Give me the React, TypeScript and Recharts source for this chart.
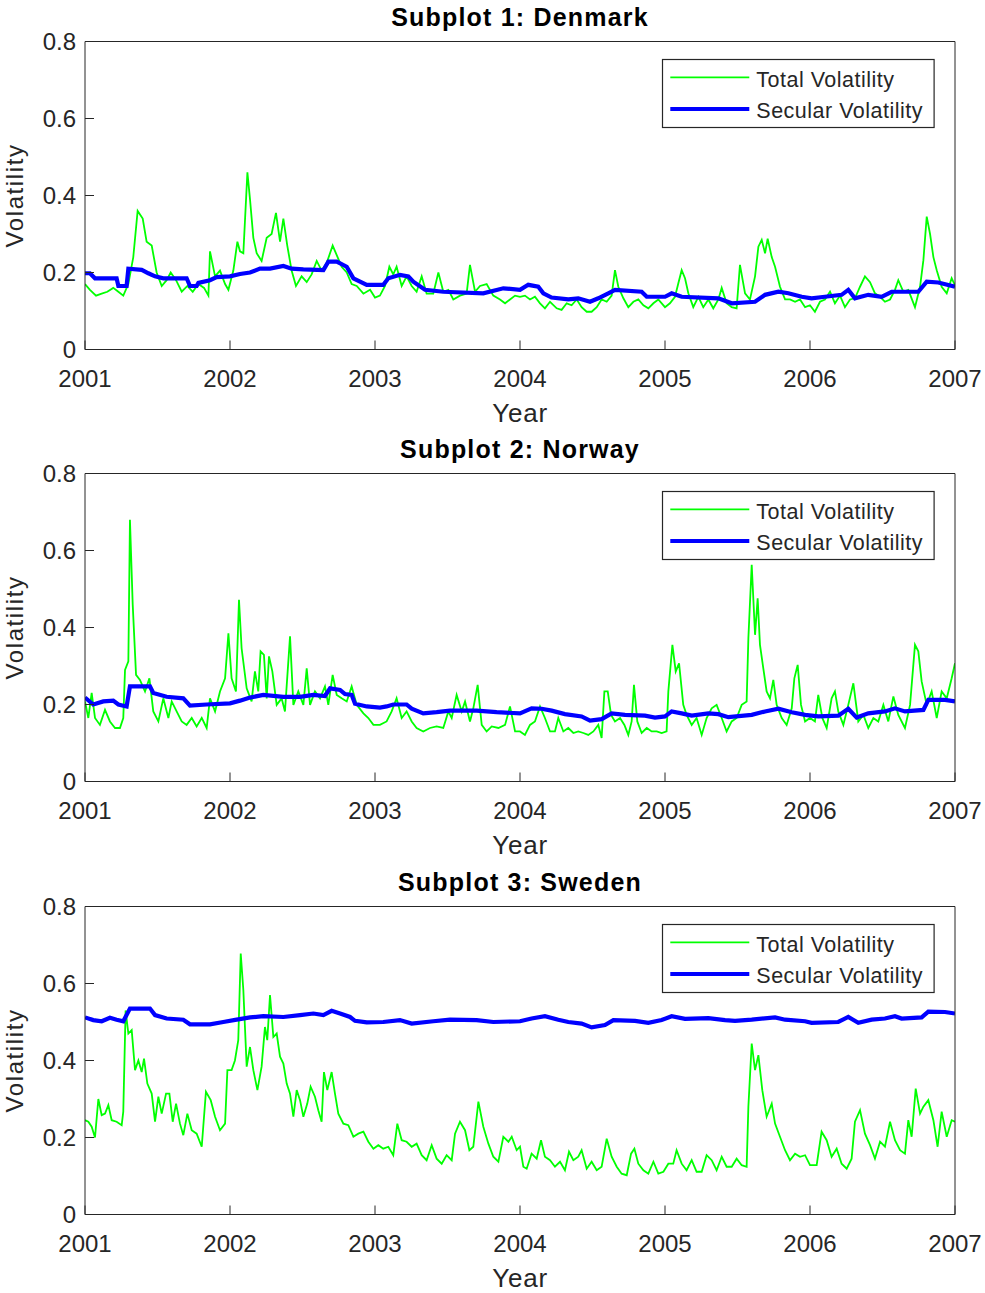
import React from 'react';
import { LineChart, Line, XAxis, YAxis, Legend, Label } from 'recharts';

// Axis ticks
const YEARS = [2001, 2002, 2003, 2004, 2005, 2006, 2007];
const VOL_TICKS = [0, 0.2, 0.4, 0.6, 0.8];

// Series: [decimal year, volatility]
const dkTotal: [number, number][] = [
  [2001.0, 0.17], [2001.034, 0.155], [2001.076, 0.14], [2001.115, 0.145], [2001.154, 0.15], [2001.195, 0.16],
  [2001.23, 0.15], [2001.264, 0.14], [2001.299, 0.17], [2001.333, 0.24], [2001.363, 0.36], [2001.398, 0.34],
  [2001.425, 0.28], [2001.46, 0.27], [2001.494, 0.2], [2001.529, 0.165], [2001.563, 0.18], [2001.591, 0.2],
  [2001.628, 0.18], [2001.667, 0.15], [2001.706, 0.165], [2001.743, 0.15], [2001.782, 0.17], [2001.821, 0.16],
  [2001.851, 0.14], [2001.862, 0.255], [2001.897, 0.19], [2001.931, 0.205], [2001.966, 0.17], [2001.989, 0.155],
  [2002.023, 0.205], [2002.051, 0.28], [2002.069, 0.255], [2002.092, 0.25], [2002.12, 0.46], [2002.138, 0.39],
  [2002.161, 0.29], [2002.184, 0.25], [2002.218, 0.23], [2002.253, 0.29], [2002.287, 0.3], [2002.317, 0.355],
  [2002.345, 0.28], [2002.368, 0.34], [2002.395, 0.27], [2002.425, 0.205], [2002.455, 0.165], [2002.494, 0.19],
  [2002.529, 0.175], [2002.563, 0.195], [2002.598, 0.23], [2002.632, 0.205], [2002.667, 0.225], [2002.708, 0.27],
  [2002.736, 0.245], [2002.77, 0.215], [2002.805, 0.2], [2002.839, 0.17], [2002.874, 0.165], [2002.92, 0.145],
  [2002.966, 0.155], [2003.0, 0.135], [2003.034, 0.14], [2003.069, 0.165], [2003.099, 0.215], [2003.126, 0.195],
  [2003.149, 0.215], [2003.184, 0.165], [2003.218, 0.19], [2003.253, 0.165], [2003.287, 0.15], [2003.322, 0.19],
  [2003.356, 0.145], [2003.402, 0.145], [2003.437, 0.2], [2003.471, 0.15], [2003.506, 0.155], [2003.54, 0.13],
  [2003.586, 0.14], [2003.632, 0.145], [2003.655, 0.22], [2003.69, 0.15], [2003.724, 0.165], [2003.77, 0.17],
  [2003.816, 0.14], [2003.862, 0.13], [2003.897, 0.12], [2003.931, 0.13], [2003.966, 0.14],
  [2004.0, 0.137], [2004.034, 0.14], [2004.069, 0.13], [2004.103, 0.137], [2004.138, 0.12], [2004.172, 0.107],
  [2004.207, 0.124], [2004.253, 0.107], [2004.287, 0.103], [2004.322, 0.12], [2004.356, 0.115], [2004.391, 0.13],
  [2004.425, 0.11], [2004.46, 0.098], [2004.494, 0.098], [2004.529, 0.11], [2004.563, 0.13], [2004.598, 0.124],
  [2004.632, 0.14], [2004.655, 0.206], [2004.678, 0.163], [2004.713, 0.133], [2004.747, 0.11], [2004.782, 0.124],
  [2004.816, 0.13], [2004.851, 0.115], [2004.885, 0.107], [2004.92, 0.12], [2004.954, 0.13], [2005.0, 0.11],
  [2005.034, 0.12], [2005.069, 0.137], [2005.092, 0.172], [2005.115, 0.206], [2005.138, 0.185], [2005.161, 0.146],
  [2005.195, 0.11], [2005.23, 0.137], [2005.264, 0.11], [2005.299, 0.13], [2005.333, 0.107], [2005.368, 0.13],
  [2005.391, 0.16], [2005.425, 0.12], [2005.46, 0.11], [2005.494, 0.107], [2005.517, 0.22], [2005.552, 0.146],
  [2005.586, 0.13], [2005.621, 0.19], [2005.644, 0.267], [2005.667, 0.285], [2005.69, 0.25], [2005.708, 0.288],
  [2005.736, 0.24], [2005.759, 0.215], [2005.793, 0.163], [2005.828, 0.13], [2005.862, 0.13], [2005.897, 0.124],
  [2005.931, 0.13], [2005.966, 0.11], [2006.0, 0.115], [2006.034, 0.098], [2006.069, 0.124], [2006.103, 0.13],
  [2006.138, 0.15], [2006.172, 0.12], [2006.207, 0.14], [2006.241, 0.11], [2006.276, 0.13], [2006.31, 0.133],
  [2006.345, 0.163], [2006.379, 0.19], [2006.414, 0.175], [2006.448, 0.146], [2006.483, 0.137], [2006.517, 0.124],
  [2006.552, 0.13], [2006.586, 0.155], [2006.609, 0.18], [2006.644, 0.15], [2006.678, 0.155], [2006.724, 0.11],
  [2006.759, 0.163], [2006.782, 0.232], [2006.805, 0.345], [2006.828, 0.3], [2006.851, 0.24], [2006.874, 0.206],
  [2006.908, 0.163], [2006.943, 0.146], [2006.977, 0.185], [2007.0, 0.167],
];

const dkSecular: [number, number][] = [
  [2001.0, 0.198], [2001.034, 0.198], [2001.069, 0.185], [2001.218, 0.185], [2001.23, 0.165], [2001.287, 0.165],
  [2001.299, 0.21], [2001.391, 0.207], [2001.437, 0.198], [2001.483, 0.19], [2001.54, 0.185], [2001.701, 0.185],
  [2001.724, 0.165], [2001.77, 0.165], [2001.782, 0.173], [2001.862, 0.18], [2001.908, 0.188], [2002.0, 0.19],
  [2002.069, 0.196], [2002.138, 0.2], [2002.207, 0.21], [2002.276, 0.21], [2002.368, 0.217], [2002.425, 0.21],
  [2002.506, 0.208], [2002.644, 0.206], [2002.678, 0.228], [2002.736, 0.228], [2002.805, 0.215], [2002.851, 0.185],
  [2002.943, 0.168], [2003.057, 0.168], [2003.092, 0.185], [2003.172, 0.194], [2003.23, 0.19], [2003.264, 0.176],
  [2003.345, 0.155], [2003.471, 0.15], [2003.747, 0.146], [2003.885, 0.159], [2004.0, 0.155],
  [2004.057, 0.168], [2004.126, 0.163], [2004.161, 0.146], [2004.218, 0.135], [2004.333, 0.13], [2004.402, 0.133],
  [2004.483, 0.124], [2004.54, 0.133], [2004.609, 0.146], [2004.655, 0.155], [2004.839, 0.15], [2004.874, 0.137],
  [2005.0, 0.137], [2005.046, 0.146], [2005.115, 0.137], [2005.368, 0.133], [2005.46, 0.12], [2005.621, 0.124],
  [2005.69, 0.142], [2005.782, 0.15], [2005.851, 0.146], [2005.943, 0.137], [2006.011, 0.133], [2006.103, 0.137],
  [2006.218, 0.142], [2006.264, 0.155], [2006.31, 0.133], [2006.402, 0.142], [2006.494, 0.137], [2006.563, 0.15],
  [2006.747, 0.15], [2006.805, 0.176], [2006.885, 0.174], [2007.0, 0.163],
];

const noTotal: [number, number][] = [
  [2001.0, 0.208], [2001.023, 0.165], [2001.046, 0.23], [2001.069, 0.165], [2001.103, 0.147], [2001.138, 0.186],
  [2001.172, 0.156], [2001.207, 0.139], [2001.241, 0.139], [2001.264, 0.165], [2001.276, 0.29], [2001.299, 0.312],
  [2001.31, 0.68], [2001.329, 0.46], [2001.352, 0.277], [2001.379, 0.264], [2001.414, 0.234], [2001.444, 0.268],
  [2001.471, 0.182], [2001.506, 0.156], [2001.54, 0.216], [2001.575, 0.165], [2001.598, 0.208], [2001.632, 0.182],
  [2001.667, 0.156], [2001.701, 0.147], [2001.736, 0.165], [2001.77, 0.143], [2001.805, 0.165], [2001.839, 0.139],
  [2001.862, 0.216], [2001.897, 0.182], [2001.931, 0.234], [2001.966, 0.268], [2001.989, 0.385], [2002.011, 0.268],
  [2002.041, 0.234], [2002.062, 0.472], [2002.08, 0.346], [2002.115, 0.242], [2002.149, 0.208], [2002.172, 0.286],
  [2002.195, 0.234], [2002.211, 0.338], [2002.234, 0.329], [2002.253, 0.216], [2002.269, 0.325], [2002.292, 0.286],
  [2002.322, 0.199], [2002.356, 0.216], [2002.379, 0.182], [2002.414, 0.377], [2002.437, 0.199], [2002.471, 0.234],
  [2002.506, 0.199], [2002.529, 0.294], [2002.552, 0.199], [2002.586, 0.234], [2002.621, 0.216], [2002.655, 0.247],
  [2002.678, 0.199], [2002.708, 0.277], [2002.736, 0.225], [2002.77, 0.216], [2002.805, 0.208], [2002.839, 0.247],
  [2002.874, 0.199], [2002.92, 0.177], [2002.954, 0.165], [2002.989, 0.147], [2003.034, 0.147], [2003.08, 0.156],
  [2003.115, 0.182], [2003.149, 0.216], [2003.184, 0.165], [2003.218, 0.182], [2003.253, 0.156], [2003.287, 0.139],
  [2003.333, 0.13], [2003.379, 0.139], [2003.425, 0.143], [2003.471, 0.139], [2003.506, 0.182], [2003.529, 0.165],
  [2003.563, 0.225], [2003.598, 0.182], [2003.621, 0.208], [2003.655, 0.156], [2003.678, 0.19], [2003.708, 0.251],
  [2003.736, 0.147], [2003.77, 0.13], [2003.805, 0.143], [2003.851, 0.139], [2003.897, 0.147], [2003.931, 0.195],
  [2003.966, 0.13], [2004.0, 0.13], [2004.034, 0.121], [2004.069, 0.147], [2004.103, 0.156], [2004.138, 0.195],
  [2004.172, 0.165], [2004.207, 0.13], [2004.241, 0.13], [2004.264, 0.165], [2004.299, 0.13], [2004.333, 0.139],
  [2004.368, 0.126], [2004.402, 0.13], [2004.437, 0.126], [2004.471, 0.121], [2004.506, 0.13], [2004.54, 0.147],
  [2004.563, 0.113], [2004.582, 0.234], [2004.605, 0.234], [2004.628, 0.173], [2004.655, 0.156], [2004.69, 0.165],
  [2004.72, 0.147], [2004.747, 0.121], [2004.77, 0.156], [2004.786, 0.251], [2004.809, 0.156], [2004.839, 0.126],
  [2004.874, 0.139], [2004.908, 0.13], [2004.943, 0.13], [2004.977, 0.126], [2005.011, 0.13], [2005.023, 0.234],
  [2005.051, 0.355], [2005.074, 0.286], [2005.097, 0.307], [2005.126, 0.199], [2005.149, 0.173], [2005.184, 0.147],
  [2005.218, 0.165], [2005.253, 0.121], [2005.287, 0.165], [2005.322, 0.19], [2005.356, 0.199], [2005.391, 0.165],
  [2005.425, 0.13], [2005.46, 0.156], [2005.494, 0.165], [2005.529, 0.199], [2005.563, 0.208], [2005.575, 0.372],
  [2005.598, 0.563], [2005.621, 0.381], [2005.639, 0.476], [2005.655, 0.355], [2005.678, 0.294], [2005.701, 0.234],
  [2005.724, 0.216], [2005.747, 0.264], [2005.77, 0.199], [2005.805, 0.165], [2005.839, 0.147], [2005.874, 0.19],
  [2005.892, 0.268], [2005.915, 0.303], [2005.938, 0.199], [2005.966, 0.156], [2006.0, 0.165], [2006.034, 0.156],
  [2006.057, 0.225], [2006.085, 0.165], [2006.115, 0.139], [2006.149, 0.216], [2006.172, 0.234], [2006.195, 0.182],
  [2006.23, 0.147], [2006.264, 0.199], [2006.299, 0.255], [2006.333, 0.156], [2006.368, 0.173], [2006.402, 0.139],
  [2006.437, 0.165], [2006.471, 0.156], [2006.506, 0.199], [2006.54, 0.156], [2006.575, 0.221], [2006.609, 0.173],
  [2006.655, 0.139], [2006.69, 0.199], [2006.724, 0.355], [2006.747, 0.338], [2006.77, 0.26], [2006.805, 0.199],
  [2006.839, 0.234], [2006.874, 0.165], [2006.908, 0.234], [2006.943, 0.216], [2006.977, 0.268], [2007.0, 0.307],
];

const noSecular: [number, number][] = [
  [2001.0, 0.218], [2001.057, 0.2], [2001.126, 0.208], [2001.195, 0.21], [2001.23, 0.2], [2001.287, 0.195],
  [2001.31, 0.247], [2001.448, 0.247], [2001.471, 0.23], [2001.563, 0.22], [2001.678, 0.216], [2001.724, 0.197],
  [2001.839, 0.2], [2002.0, 0.203], [2002.069, 0.21], [2002.138, 0.218], [2002.23, 0.225], [2002.368, 0.22],
  [2002.483, 0.22], [2002.575, 0.225], [2002.655, 0.222], [2002.69, 0.242], [2002.759, 0.238], [2002.793, 0.227],
  [2002.839, 0.225], [2002.862, 0.202], [2002.943, 0.195], [2003.034, 0.192], [2003.08, 0.195], [2003.126, 0.2],
  [2003.218, 0.2], [2003.253, 0.189], [2003.333, 0.177], [2003.425, 0.18], [2003.517, 0.184], [2003.701, 0.184],
  [2003.839, 0.18], [2004.0, 0.177], [2004.08, 0.19], [2004.149, 0.189], [2004.218, 0.184], [2004.31, 0.175],
  [2004.425, 0.169], [2004.483, 0.158], [2004.563, 0.162], [2004.632, 0.177], [2004.724, 0.173], [2004.862, 0.171],
  [2004.931, 0.166], [2005.0, 0.169], [2005.046, 0.182], [2005.115, 0.177], [2005.184, 0.171], [2005.299, 0.177],
  [2005.368, 0.175], [2005.437, 0.167], [2005.598, 0.173], [2005.69, 0.182], [2005.782, 0.189], [2005.874, 0.18],
  [2005.966, 0.173], [2006.057, 0.169], [2006.195, 0.171], [2006.264, 0.189], [2006.322, 0.166], [2006.402, 0.177],
  [2006.517, 0.182], [2006.586, 0.19], [2006.655, 0.182], [2006.782, 0.186], [2006.816, 0.212], [2006.931, 0.212],
  [2007.0, 0.208],
];

const seTotal: [number, number][] = [
  [2001.0, 0.245], [2001.023, 0.241], [2001.046, 0.228], [2001.069, 0.2], [2001.092, 0.3], [2001.115, 0.258],
  [2001.138, 0.262], [2001.161, 0.284], [2001.184, 0.245], [2001.218, 0.241], [2001.253, 0.232], [2001.264, 0.267],
  [2001.28, 0.53], [2001.299, 0.47], [2001.322, 0.479], [2001.345, 0.375], [2001.368, 0.4], [2001.391, 0.37],
  [2001.407, 0.405], [2001.43, 0.34], [2001.46, 0.314], [2001.483, 0.241], [2001.506, 0.306], [2001.529, 0.262],
  [2001.559, 0.314], [2001.582, 0.314], [2001.605, 0.241], [2001.628, 0.288], [2001.655, 0.236], [2001.678, 0.206],
  [2001.706, 0.262], [2001.736, 0.219], [2001.77, 0.21], [2001.805, 0.176], [2001.834, 0.319], [2001.867, 0.297],
  [2001.897, 0.254], [2001.931, 0.219], [2001.966, 0.236], [2001.982, 0.375], [2002.011, 0.375], [2002.034, 0.4],
  [2002.057, 0.453], [2002.074, 0.678], [2002.092, 0.583], [2002.115, 0.384], [2002.138, 0.435], [2002.161, 0.375],
  [2002.189, 0.323], [2002.218, 0.384], [2002.241, 0.487], [2002.257, 0.453], [2002.276, 0.57], [2002.299, 0.461],
  [2002.322, 0.47], [2002.345, 0.41], [2002.368, 0.392], [2002.391, 0.34], [2002.414, 0.314], [2002.437, 0.254],
  [2002.46, 0.323], [2002.483, 0.297], [2002.506, 0.254], [2002.533, 0.288], [2002.556, 0.332], [2002.586, 0.306],
  [2002.609, 0.271], [2002.632, 0.241], [2002.648, 0.37], [2002.671, 0.323], [2002.701, 0.37], [2002.724, 0.314],
  [2002.747, 0.262], [2002.782, 0.236], [2002.816, 0.232], [2002.851, 0.202], [2002.885, 0.21], [2002.92, 0.215],
  [2002.954, 0.189], [2002.989, 0.171], [2003.023, 0.18], [2003.057, 0.171], [2003.092, 0.176], [2003.126, 0.154],
  [2003.154, 0.236], [2003.184, 0.193], [2003.218, 0.189], [2003.253, 0.176], [2003.287, 0.184], [2003.322, 0.154],
  [2003.356, 0.141], [2003.391, 0.18], [2003.425, 0.145], [2003.46, 0.132], [2003.494, 0.154], [2003.529, 0.141],
  [2003.552, 0.21], [2003.586, 0.241], [2003.621, 0.219], [2003.651, 0.167], [2003.678, 0.176], [2003.713, 0.293],
  [2003.747, 0.228], [2003.782, 0.184], [2003.816, 0.15], [2003.851, 0.137], [2003.885, 0.202], [2003.92, 0.189],
  [2003.943, 0.202], [2003.977, 0.167], [2004.0, 0.176], [2004.023, 0.124], [2004.046, 0.119], [2004.08, 0.158],
  [2004.115, 0.145], [2004.145, 0.193], [2004.172, 0.15], [2004.207, 0.141], [2004.241, 0.124], [2004.276, 0.137],
  [2004.31, 0.115], [2004.338, 0.163], [2004.368, 0.141], [2004.402, 0.15], [2004.425, 0.167], [2004.46, 0.119],
  [2004.494, 0.137], [2004.529, 0.115], [2004.563, 0.124], [2004.598, 0.197], [2004.632, 0.15], [2004.667, 0.124],
  [2004.701, 0.106], [2004.736, 0.102], [2004.766, 0.158], [2004.789, 0.171], [2004.816, 0.132], [2004.851, 0.115],
  [2004.885, 0.106], [2004.92, 0.137], [2004.954, 0.106], [2004.989, 0.111], [2005.023, 0.132], [2005.057, 0.132],
  [2005.08, 0.167], [2005.115, 0.132], [2005.149, 0.115], [2005.184, 0.141], [2005.218, 0.111], [2005.253, 0.111],
  [2005.287, 0.154], [2005.322, 0.141], [2005.356, 0.115], [2005.391, 0.15], [2005.425, 0.124], [2005.46, 0.124],
  [2005.494, 0.145], [2005.529, 0.128], [2005.563, 0.124], [2005.575, 0.28], [2005.598, 0.444], [2005.621, 0.375],
  [2005.644, 0.414], [2005.671, 0.323], [2005.701, 0.254], [2005.736, 0.288], [2005.759, 0.236], [2005.793, 0.202],
  [2005.828, 0.167], [2005.862, 0.141], [2005.897, 0.158], [2005.931, 0.15], [2005.966, 0.154], [2006.0, 0.128],
  [2006.046, 0.128], [2006.08, 0.215], [2006.115, 0.193], [2006.149, 0.15], [2006.184, 0.171], [2006.218, 0.132],
  [2006.253, 0.119], [2006.287, 0.145], [2006.31, 0.241], [2006.345, 0.271], [2006.379, 0.21], [2006.414, 0.18],
  [2006.448, 0.145], [2006.483, 0.189], [2006.517, 0.176], [2006.552, 0.241], [2006.586, 0.193], [2006.621, 0.167],
  [2006.655, 0.158], [2006.678, 0.245], [2006.701, 0.202], [2006.729, 0.327], [2006.759, 0.262], [2006.782, 0.28],
  [2006.816, 0.297], [2006.851, 0.245], [2006.88, 0.176], [2006.908, 0.267], [2006.943, 0.202], [2006.977, 0.245],
  [2007.0, 0.241],
];

const seSecular: [number, number][] = [
  [2001.0, 0.512], [2001.057, 0.505], [2001.115, 0.502], [2001.172, 0.511], [2001.218, 0.506], [2001.264, 0.502],
  [2001.31, 0.535], [2001.448, 0.535], [2001.483, 0.518], [2001.563, 0.509], [2001.678, 0.506], [2001.724, 0.494],
  [2001.862, 0.494], [2001.954, 0.5], [2002.046, 0.506], [2002.138, 0.512], [2002.23, 0.515], [2002.368, 0.513],
  [2002.483, 0.518], [2002.575, 0.522], [2002.644, 0.518], [2002.701, 0.529], [2002.759, 0.522], [2002.828, 0.513],
  [2002.862, 0.503], [2002.943, 0.499], [2003.057, 0.5], [2003.172, 0.505], [2003.253, 0.496], [2003.402, 0.502],
  [2003.517, 0.506], [2003.701, 0.505], [2003.816, 0.5], [2004.0, 0.502], [2004.08, 0.509], [2004.172, 0.515],
  [2004.264, 0.506], [2004.333, 0.5], [2004.425, 0.496], [2004.494, 0.486], [2004.586, 0.492], [2004.644, 0.505],
  [2004.793, 0.503], [2004.885, 0.498], [2004.977, 0.505], [2005.046, 0.515], [2005.138, 0.508], [2005.299, 0.51],
  [2005.414, 0.505], [2005.483, 0.503], [2005.598, 0.506], [2005.759, 0.512], [2005.828, 0.506], [2005.966, 0.502],
  [2006.011, 0.498], [2006.195, 0.5], [2006.264, 0.513], [2006.333, 0.498], [2006.425, 0.506], [2006.517, 0.509],
  [2006.586, 0.515], [2006.632, 0.509], [2006.77, 0.512], [2006.816, 0.527], [2006.931, 0.526], [2007.0, 0.522],
];

const PANELS = [
  { title: 'Subplot 1: Denmark', total: dkTotal, secular: dkSecular, top: 0 },
  { title: 'Subplot 2: Norway', total: noTotal, secular: noSecular, top: 431.8 },
  { title: 'Subplot 3: Sweden', total: seTotal, secular: seSecular, top: 864.5 },
];

const GREEN = '#00ff00';
const BLUE = '#0000ff';
const INK = '#262626';
const FONT = '"Liberation Sans", Arial, Helvetica, sans-serif';

const toPoints = (rows: [number, number][]) => rows.map(([year, value]) => ({ year, value }));

const LegendBox = () => (
  <svg width={274} height={70} style={{ display: 'block', overflow: 'visible' }}>
    <rect x={0.5} y={0.5} width={271.6} height={68} fill="#ffffff" stroke={INK} strokeWidth={1.2} />
    <line x1={8.3} x2={87.3} y1={18.4} y2={18.4} stroke={GREEN} strokeWidth={1.8} />
    <line x1={8.3} x2={87.3} y1={50} y2={50} stroke={BLUE} strokeWidth={4.2} />
    <text x={94.3} y={28.4} fill={INK} fontSize={21.5} fontFamily={FONT} letterSpacing={0.5}>Total Volatility</text>
    <text x={94.3} y={59} fill={INK} fontSize={21.5} fontFamily={FONT} letterSpacing={0.5}>Secular Volatility</text>
  </svg>
);

const titleContent = (title: string) => (props: any) => {
  const vb = props.viewBox || { x: 0, y: 0, width: 0, height: 0 };
  return (
    <text
      x={vb.x + vb.width / 2}
      y={vb.y + vb.height - 15.5}
      textAnchor="middle"
      fill="#000000"
      fontSize={25}
      fontWeight="bold"
      fontFamily={FONT}
      letterSpacing={1.2}
    >
      {title}
    </text>
  );
};

const volatilityContent = (props: any) => {
  const vb = props.viewBox || { x: 0, y: 0, width: 0, height: 0 };
  const cx = vb.x + 23.3;
  const cy = vb.y + vb.height / 2;
  return (
    <text
      x={cx}
      y={cy}
      transform={`rotate(-90, ${cx}, ${cy})`}
      textAnchor="middle"
      fill={INK}
      fontSize={24}
      fontFamily={FONT}
      letterSpacing={1.6}
    >
      Volatility
    </text>
  );
};

const tickStyle = { fill: INK, fontSize: 24, fontFamily: FONT };

function Panel({ title, total, secular }: { title: string; total: [number, number][]; secular: [number, number][] }) {
  return (
    <LineChart width={985} height={432} margin={{ top: 40.5, right: 29, bottom: 28.5, left: 0 }}>
      <XAxis
        xAxisId="bottom"
        dataKey="year"
        type="number"
        domain={[2001, 2007]}
        ticks={YEARS}
        interval={0}
        allowDataOverflow
        height={54}
        tickSize={-9}
        tickMargin={29.5}
        stroke={INK}
        tick={tickStyle}
      >
        <Label position="bottom" offset={0} value="Year" fill={INK} fontSize={26} fontFamily={FONT} letterSpacing={0.8} />
      </XAxis>
      <XAxis
        xAxisId="top"
        orientation="top"
        dataKey="year"
        type="number"
        domain={[2001, 2007]}
        ticks={YEARS}
        interval={0}
        allowDataOverflow
        height={1}
        tickSize={-9}
        tick={false}
        stroke={INK}
      >
        <Label content={titleContent(title)} />
      </XAxis>
      <YAxis
        yAxisId="left"
        type="number"
        domain={[0, 0.8]}
        ticks={VOL_TICKS}
        interval={0}
        allowDataOverflow
        width={85}
        tickSize={-9}
        tickMargin={18}
        stroke={INK}
        tick={tickStyle}
      >
        <Label content={volatilityContent} />
      </YAxis>
      <YAxis
        yAxisId="right"
        orientation="right"
        type="number"
        domain={[0, 0.8]}
        ticks={VOL_TICKS}
        interval={0}
        allowDataOverflow
        width={1}
        tickSize={-9}
        tick={false}
        stroke={INK}
      />
      <Line
        xAxisId="bottom"
        yAxisId="left"
        data={toPoints(total)}
        dataKey="value"
        name="Total Volatility"
        type="linear"
        stroke={GREEN}
        strokeWidth={1.8}
        dot={false}
        activeDot={false}
        isAnimationActive={false}
      />
      <Line
        xAxisId="bottom"
        yAxisId="left"
        data={toPoints(secular)}
        dataKey="value"
        name="Secular Volatility"
        type="linear"
        stroke={BLUE}
        strokeWidth={4.2}
        dot={false}
        activeDot={false}
        isAnimationActive={false}
      />
      <Legend
        content={LegendBox}
        layout="vertical"
        align="center"
        verticalAlign="middle"
        wrapperStyle={{ left: 661.5, top: 59.3, width: 274, height: 70 }}
      />
    </LineChart>
  );
}

export default function App() {
  return (
    <div style={{ position: 'absolute', left: 0, top: 0, width: 985, height: 1293, background: '#ffffff' }}>
      {PANELS.map((p) => (
        <div key={p.title} style={{ position: 'absolute', left: 0, top: p.top }}>
          <Panel title={p.title} total={p.total} secular={p.secular} />
        </div>
      ))}
    </div>
  );
}
